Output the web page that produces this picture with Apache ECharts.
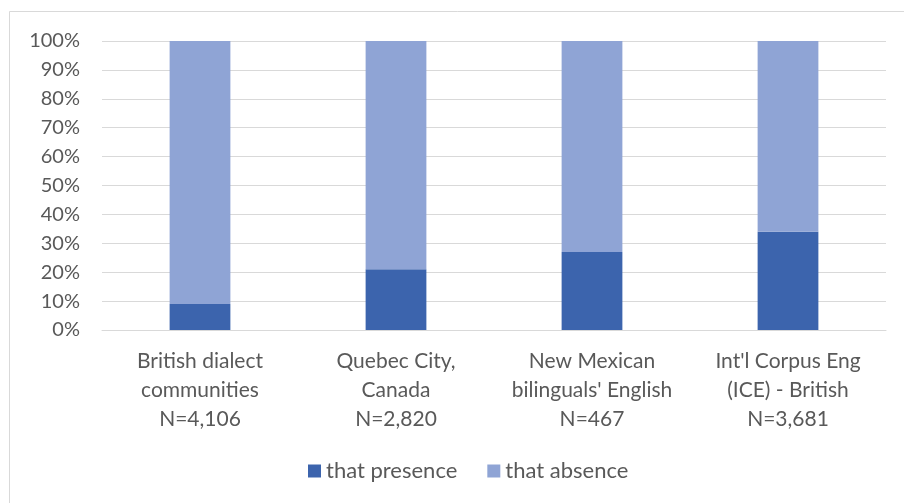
<!DOCTYPE html>
<html>
<head>
<meta charset="utf-8">
<script src="https://cdn.jsdelivr.net/npm/echarts@6/dist/echarts.min.js"></script>
<style>
  html, body { margin: 0; padding: 0; background: #fff; }
  #chart { width: 904px; height: 503px; }
</style>
</head>
<body>
<div id="chart"></div>
<script>
// Share of "that" presence vs absence in complement clauses, by corpus
const categories = [
  "British dialect\ncommunities\nN=4,106",
  "Quebec City,\nCanada\nN=2,820",
  "New Mexican\nbilinguals' English\nN=467",
  "Int'l Corpus Eng\n(ICE) - British\nN=3,681"
];
const thatPresence = [9, 21, 27, 34];
const thatAbsence = [91, 79, 73, 66];
const yTicks = [0, 10, 20, 30, 40, 50, 60, 70, 80, 90, 100];

const font = "Lato, 'Noto Sans', sans-serif";
const textColor = "#595959";

const chart = echarts.init(document.getElementById("chart"), null, { renderer: "canvas" });
chart.setOption({
  animation: false,
  backgroundColor: "#ffffff",
  graphic: [{
    type: "rect",
    shape: { x: 9.5, y: 11.5, width: 1000, height: 1000 },
    style: { fill: "none", stroke: "#d9d9d9", lineWidth: 1 },
    silent: true
  }],
  grid: { left: 102, right: 18, top: 41, bottom: 173 },
  legend: {
    bottom: 16,
    left: 303,
    itemWidth: 13,
    itemHeight: 13,
    itemGap: 30,
    icon: "rect",
    textStyle: { color: textColor, fontSize: 22, fontFamily: font },
    data: ["that presence", "that absence"]
  },
  xAxis: {
    type: "category",
    data: categories,
    axisLine: { show: true, lineStyle: { color: "#d9d9d9" } },
    axisTick: { show: false },
    axisLabel: {
      color: textColor,
      fontSize: 21,
      fontFamily: font,
      lineHeight: 29,
      margin: 17,
      interval: 0
    }
  },
  yAxis: {
    type: "value",
    min: 0,
    max: 100,
    interval: 10,
    axisLine: { show: false },
    axisTick: { show: false },
    splitLine: { lineStyle: { color: "#d9d9d9", width: 1 } },
    axisLabel: {
      color: textColor,
      fontSize: 20,
      fontFamily: font,
      margin: 22,
      formatter: v => yTicks.includes(v) ? v + "%" : ""
    }
  },
  series: [
    {
      name: "that presence",
      type: "bar",
      stack: "share",
      barWidth: "31%",
      data: thatPresence,
      itemStyle: { color: "#3C64AD" }
    },
    {
      name: "that absence",
      type: "bar",
      stack: "share",
      barWidth: "31%",
      data: thatAbsence,
      itemStyle: { color: "#8FA4D5" }
    }
  ]
});
</script>
</body>
</html>
